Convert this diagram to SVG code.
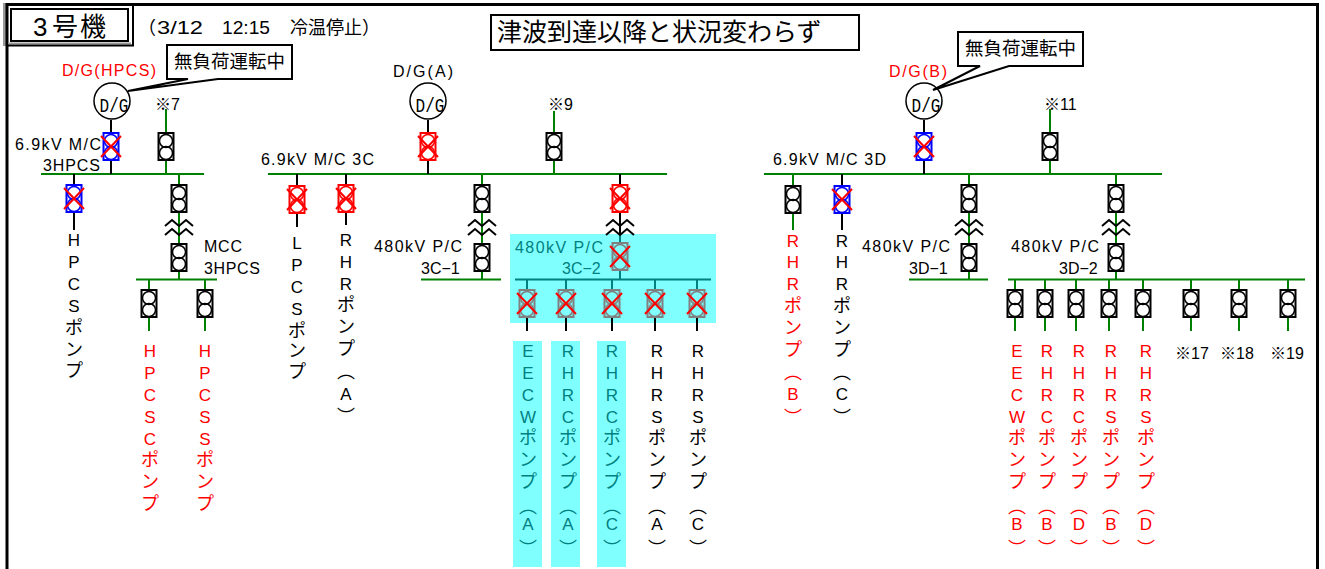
<svg xmlns="http://www.w3.org/2000/svg" width="1325" height="569" viewBox="0 0 1325 569">
<style>
text{font-family:"Liberation Sans","Noto Sans CJK JP",sans-serif;font-size:16px;fill:#000}
.v{font-size:17px;text-anchor:middle}
.j{font-size:18px}
.r{fill:#ff0000}
.t{fill:#008080}
.g{stroke:#008000;stroke-width:2;fill:none}
.k{stroke:#000;stroke-width:2;fill:none}
.c{stroke:#008080;stroke-width:2;fill:none}
.bk{stroke:#000}.bl{stroke:#0000ff}.rd{stroke:#ff0000}.gy{stroke:#808080}
.box{fill:#fff;stroke:#000;stroke-width:2}
.dg{font-family:"Liberation Mono",monospace;font-size:20px;text-anchor:middle}
.ci{fill:#fff;stroke:#000;stroke-width:1.500}
</style>
<defs>
<g id="b" fill="none"><rect x="-7.500" y="1" width="15" height="27" stroke-width="2"/><circle cx="0" cy="9" r="6.500" stroke-width="1.500"/><circle cx="0" cy="21" r="6.500" stroke-width="1.500"/></g>
<g id="x" stroke="#ff0000" stroke-width="2" fill="none"><path d="M-10,4 L10,25 M10,4 L-10,25"/></g>
<g id="ch" fill="none" stroke="#000" stroke-width="2"><path d="M-14,6 L-7,0 L0,6 L7,0 L14,6 M-14,15 L-7,9 L0,15 L7,9 L14,15"/></g>
</defs>
<rect width="1325" height="569" fill="#fff"/>
<rect x="510" y="234" width="206" height="89" fill="#80ffff"/>
<rect x="513" y="341" width="29" height="226" fill="#80ffff"/>
<rect x="551" y="341" width="29" height="226" fill="#80ffff"/>
<rect x="597" y="341" width="29" height="226" fill="#80ffff"/>
<rect x="3" y="3" width="3" height="43" fill="#999"/>
<g id="frame" fill="none" stroke="#000" stroke-width="3"><path d="M7,569 V4.500 H1317.500 V569"/></g>
<g id="connectors">
<path class="g" d="M41,174 H204 M268,174 H667 M764,174 H1162 M136,279.500 H217 M421,279.500 H501 M909,279.500 H988 M1008,279.500 H1305"/>
<path class="c" d="M515,279.500 H711 M527,280 V289 M566,280 V289 M612,280 V289 M655,280 V289 M697,280 V289 M620,234 V242 M620,271 V279"/>
<path class="k" d="M111,120 V132 M111,161 V174 M74,174 V184 M74,213 V230 M297,174 V185 M297,214 V227 M346,174 V184 M346,213 V225 M428,120 V132 M428,161 V174 M620,174 V184 M620,213 V234 M842,174 V185 M842,214 V230 M924,120 V132 M924,161 V174 M527,318 V331 M566,318 V331 M612,318 V331 M655,318 V331 M697,318 V331"/>
<path class="g" d="M166,109 V132 M166,161 V174 M179,174 V184 M179,213 V243 M179,272 V279 M149,280 V289 M205,280 V289 M149,318 V331 M205,318 V331 M554,111 V132 M554,161 V174 M482,174 V184 M482,213 V243 M482,272 V279 M793,174 V185 M793,214 V230 M1050,109 V132 M1050,161 V174 M969,174 V184 M969,213 V243 M969,272 V279 M1116,174 V184 M1116,213 V243 M1116,272 V279 M1015,280 V289 M1045,280 V289 M1076,280 V289 M1109,280 V289 M1143,280 V289 M1191,280 V289 M1239,280 V289 M1288,280 V289 M1015,318 V331 M1045,318 V331 M1076,318 V331 M1109,318 V331 M1143,318 V331 M1191,318 V331 M1239,318 V331 M1288,318 V331"/>
<use href="#ch" x="179" y="220"/><use href="#ch" x="482" y="220"/><use href="#ch" x="620" y="220"/><use href="#ch" x="969" y="220"/><use href="#ch" x="1116" y="220"/>
</g>
<g id="title"><path d="M8,43.500 H131" fill="none" stroke="#999" stroke-width="2"/><path d="M8,45.500 H133 V6" fill="none" stroke="#000" stroke-width="2"/><rect x="11" y="9" width="117" height="32" class="box"/><text x="33 52 80" y="36" style="font-size:26px">3号機</text></g>
<g id="date"><text x="138" y="34" style="font-size:18px">（</text><text x="157" y="34" style="font-size:19px" textLength="46" lengthAdjust="spacingAndGlyphs">3/12</text><text x="222" y="34" style="font-size:19px" textLength="48" lengthAdjust="spacingAndGlyphs">12:15</text><text x="290" y="34" style="font-size:18px">冷温停止</text><text x="362" y="34" style="font-size:18px">）</text></g>
<g id="banner"><rect x="491" y="15" width="368" height="35" class="box"/><text x="497" y="41" style="font-size:25px">津波到達以降と状況変わらず</text></g>
<g id="dg-hpcs"><text class="r" x="62" y="76" textLength="94">D/G(HPCS)</text><circle cx="112" cy="101" r="18" class="ci"/><text class="dg" transform="translate(114,112) scale(.8,1)">D/G</text></g>
<g id="callout-hpcs"><path class="box" d="M167,45 H292 V79 H218 L128,91 L188,79 H167 Z"/><text x="174" y="68" style="font-size:18.500px">無負荷運転中</text></g>
<g id="dg-a"><text x="393" y="77" textLength="60">D/G(A)</text><circle cx="428" cy="101" r="18" class="ci"/><text class="dg" transform="translate(430,112) scale(.8,1)">D/G</text></g>
<g id="dg-b"><text class="r" x="889" y="77" textLength="58">D/G(B)</text><circle cx="924" cy="101" r="18" class="ci"/><text class="dg" transform="translate(926,112) scale(.8,1)">D/G</text></g>
<g id="callout-b"><path class="box" d="M958,32 H1083 V66 H1009 L933,90 L980,66 H958 Z"/><text x="965" y="55" style="font-size:18.500px">無負荷運転中</text></g>
<g id="labels">
<text x="155" y="110">※7</text><text x="548" y="110">※9</text><text x="1044" y="110">※11</text>
<text x="15" y="150" textLength="86">6.9kV M/C</text><text x="43" y="171" textLength="57">3HPCS</text>
<text x="261" y="165" textLength="113">6.9kV M/C 3C</text><text x="773" y="165" textLength="113">6.9kV M/C 3D</text>
<text x="204" y="252" textLength="38">MCC</text><text x="204" y="274" textLength="56">3HPCS</text>
<text x="374" y="252" textLength="88">480kV P/C</text><text x="421" y="274">3C−1</text>
<text class="t" x="515" y="253" textLength="88">480kV P/C</text><text class="t" x="562" y="274">3C−2</text>
<text x="862" y="252" textLength="88">480kV P/C</text><text x="909" y="274">3D−1</text>
<text x="1011" y="252" textLength="88">480kV P/C</text><text x="1059" y="274">3D−2</text>
<text x="1175" y="359">※17</text><text x="1220" y="359">※18</text><text x="1270" y="359">※19</text>
</g>
<g id="cb-dg-hpcs"><use href="#b" class="bl" x="111" y="132"/><use href="#x" x="111" y="132"/></g>
<g id="cb-7"><use href="#b" class="bk" x="166" y="132"/></g>
<g id="cb-hpcs-pump"><use href="#b" class="bl" x="74" y="184"/><use href="#x" x="74" y="184"/><text class="v" x="74 74 74 74 74 74 74" y="246 268 290 312 334 356 377">HPCS<tspan class="j">ポンプ</tspan></text></g>
<g id="cb-mcc-a"><use href="#b" class="bk" x="179" y="184"/></g>
<g id="cb-mcc-b"><use href="#b" class="bk" x="179" y="243"/></g>
<g id="cb-hpcsc"><use href="#b" class="bk" x="149" y="289"/><text class="v r" x="150 150 150 150 150 150 150 150" y="357 379 401 423 445 466 488 510">HPCSC<tspan class="j">ポンプ</tspan></text></g>
<g id="cb-hpcss"><use href="#b" class="bk" x="205" y="289"/><text class="v r" x="205 205 205 205 205 205 205 205" y="357 379 401 423 445 466 488 510">HPCSS<tspan class="j">ポンプ</tspan></text></g>
<g id="cb-lpcs"><use href="#b" class="rd" x="297" y="185"/><use href="#x" x="297" y="185"/><text class="v" x="297 297 297 297 297 297 297" y="249 271 293 315 337 357 378">LPCS<tspan class="j">ポンプ</tspan></text></g>
<g id="cb-rhr-a"><use href="#b" class="rd" x="346" y="184"/><use href="#x" x="346" y="184"/><text class="v" x="346 346 346 346 346 346 346 346 346" y="246 268 290 311 333 355 378 400 423">RHR<tspan class="j">ポンプ︵</tspan>A<tspan class="j">︶</tspan></text></g>
<g id="cb-dg-a"><use href="#b" class="rd" x="428" y="132"/><use href="#x" x="428" y="132"/></g>
<g id="cb-9"><use href="#b" class="bk" x="554" y="132"/></g>
<g id="cb-3c1-a"><use href="#b" class="bk" x="482" y="184"/></g>
<g id="cb-3c1-b"><use href="#b" class="bk" x="482" y="243"/></g>
<g id="cb-3c2-a"><use href="#b" class="rd" x="620" y="184"/><use href="#x" x="620" y="184"/></g>
<g id="cb-3c2-b"><use href="#b" class="gy" x="620" y="242"/><use href="#x" x="620" y="242"/></g>
<g id="cb-eecw-a"><use href="#b" class="gy" x="527" y="289"/><use href="#x" x="527" y="289"/><text class="v t" x="528 528 528 528 528 528 528 528 528 528" y="357 379 401 423 444 466 488 513 530 555">EECW<tspan class="j">ポンプ︵</tspan>A<tspan class="j">︶</tspan></text></g>
<g id="cb-rhrc-a"><use href="#b" class="gy" x="566" y="289"/><use href="#x" x="566" y="289"/><text class="v t" x="568 568 568 568 568 568 568 568 568 568" y="357 379 401 423 444 466 488 513 530 555">RHRC<tspan class="j">ポンプ︵</tspan>A<tspan class="j">︶</tspan></text></g>
<g id="cb-rhrc-c"><use href="#b" class="gy" x="612" y="289"/><use href="#x" x="612" y="289"/><text class="v t" x="612 612 612 612 612 612 612 612 612 612" y="357 379 401 423 444 466 488 513 530 555">RHRC<tspan class="j">ポンプ︵</tspan>C<tspan class="j">︶</tspan></text></g>
<g id="cb-rhrs-a"><use href="#b" class="gy" x="655" y="289"/><use href="#x" x="655" y="289"/><text class="v" x="657 657 657 657 657 657 657 657 657 657" y="357 379 401 423 444 466 488 513 530 555">RHRS<tspan class="j">ポンプ︵</tspan>A<tspan class="j">︶</tspan></text></g>
<g id="cb-rhrs-c"><use href="#b" class="gy" x="697" y="289"/><use href="#x" x="697" y="289"/><text class="v" x="698 698 698 698 698 698 698 698 698 698" y="357 379 401 423 444 466 488 513 530 555">RHRS<tspan class="j">ポンプ︵</tspan>C<tspan class="j">︶</tspan></text></g>
<g id="cb-rhr-b"><use href="#b" class="bk" x="793" y="185"/><text class="v r" x="793 793 793 793 793 793 793 793 793" y="247 268 290 312 334 356 379 400 424">RHR<tspan class="j">ポンプ︵</tspan>B<tspan class="j">︶</tspan></text></g>
<g id="cb-rhr-c"><use href="#b" class="bl" x="842" y="185"/><use href="#x" x="842" y="185"/><text class="v" x="842 842 842 842 842 842 842 842 842" y="247 268 290 312 334 356 379 400 424">RHR<tspan class="j">ポンプ︵</tspan>C<tspan class="j">︶</tspan></text></g>
<g id="cb-dg-b"><use href="#b" class="bl" x="924" y="132"/><use href="#x" x="924" y="132"/></g>
<g id="cb-11"><use href="#b" class="bk" x="1050" y="132"/></g>
<g id="cb-3d1-a"><use href="#b" class="bk" x="969" y="184"/></g>
<g id="cb-3d1-b"><use href="#b" class="bk" x="969" y="243"/></g>
<g id="cb-3d2-a"><use href="#b" class="bk" x="1116" y="184"/></g>
<g id="cb-3d2-b"><use href="#b" class="bk" x="1116" y="243"/></g>
<g id="cb-eecw-b"><use href="#b" class="bk" x="1015" y="289"/><text class="v r" x="1017 1017 1017 1017 1017 1017 1017 1017 1017 1017" y="357 379 401 423 444 466 488 513 530 555">EECW<tspan class="j">ポンプ︵</tspan>B<tspan class="j">︶</tspan></text></g>
<g id="cb-rhrc-b"><use href="#b" class="bk" x="1045" y="289"/><text class="v r" x="1047 1047 1047 1047 1047 1047 1047 1047 1047 1047" y="357 379 401 423 444 466 488 513 530 555">RHRC<tspan class="j">ポンプ︵</tspan>B<tspan class="j">︶</tspan></text></g>
<g id="cb-rhrc-d"><use href="#b" class="bk" x="1076" y="289"/><text class="v r" x="1079 1079 1079 1079 1079 1079 1079 1079 1079 1079" y="357 379 401 423 444 466 488 513 530 555">RHRC<tspan class="j">ポンプ︵</tspan>D<tspan class="j">︶</tspan></text></g>
<g id="cb-rhrs-b"><use href="#b" class="bk" x="1109" y="289"/><text class="v r" x="1111 1111 1111 1111 1111 1111 1111 1111 1111 1111" y="357 379 401 423 444 466 488 513 530 555">RHRS<tspan class="j">ポンプ︵</tspan>B<tspan class="j">︶</tspan></text></g>
<g id="cb-rhrs-d"><use href="#b" class="bk" x="1143" y="289"/><text class="v r" x="1146 1146 1146 1146 1146 1146 1146 1146 1146 1146" y="357 379 401 423 444 466 488 513 530 555">RHRS<tspan class="j">ポンプ︵</tspan>D<tspan class="j">︶</tspan></text></g>
<g id="cb-17"><use href="#b" class="bk" x="1191" y="289"/></g>
<g id="cb-18"><use href="#b" class="bk" x="1239" y="289"/></g>
<g id="cb-19"><use href="#b" class="bk" x="1288" y="289"/></g>
</svg>
